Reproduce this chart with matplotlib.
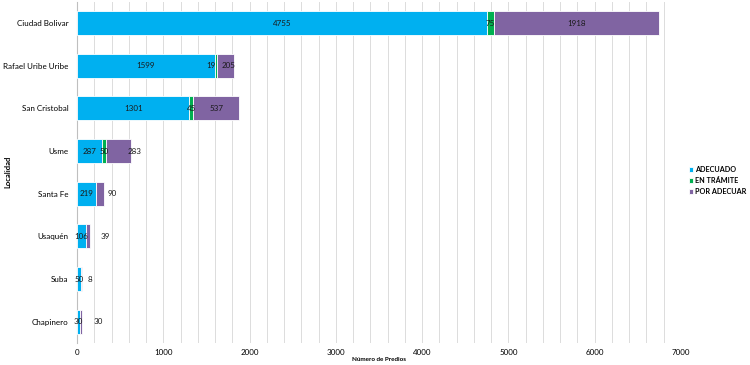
import matplotlib.pyplot as plt
import numpy as np

localidades = ["Ciudad Bolivar", "Rafael Uribe Uribe", "San Cristobal", "Usme",
               "Santa Fe", "Usaquén", "Suba", "Chapinero"]
adecuado = [4755, 1599, 1301, 287, 219, 106, 50, 30]
en_tramite = [75, 19, 45, 50, 0, 0, 0, 0]
por_adecuar = [1918, 205, 537, 283, 90, 39, 8, 30]
x_ticks = [0, 1000, 2000, 3000, 4000, 5000, 6000, 7000]

plt.rcParams["font.family"] = ["Lato", "DejaVu Sans"]

colors = ["#00B0F0", "#00B050", "#8064A2"]
series = [("ADECUADO", adecuado), ("EN TRÁMITE", en_tramite), ("POR ADECUAR", por_adecuar)]
# extra pixel shifts of the labels that sit off their segment centre
label_shift_px = {
    "EN TRÁMITE": [0, -5, 0, 0, 0, 0, 0, 0],
    "POR ADECUAR": [0, 3, 0, 16, 12, 17, 8, 17],
}

fig = plt.figure(figsize=(7.5, 3.65), dpi=100)
ax = fig.add_axes([0.1027, 0.0603, 0.8053, 0.9347])

y = np.arange(len(localidades))
left = np.zeros(len(localidades))
px_per_unit = 0.8053 * 750 / 7000
for (name, vals), color in zip(series, colors):
    vals = np.array(vals, dtype=float)
    ax.barh(y, vals, left=left, height=0.56, color=color, edgecolor="white",
            linewidth=0.6, label=name, zorder=3)
    shifts = label_shift_px.get(name, [0] * len(vals))
    for i, v in enumerate(vals):
        if v <= 0:
            continue
        xc = left[i] + v / 2 + shifts[i] / px_per_unit
        ax.text(xc, y[i], f"{int(v)}", ha="center", va="center", fontsize=5.8,
                color="#1a1a1a", zorder=4)
    left += vals

ax.set_xlim(0, 7000)
ax.set_ylim(len(localidades) - 0.5, -0.5)
ax.set_yticks(y)
ax.set_yticklabels(localidades, fontsize=5.8)
ax.set_xticks(x_ticks)
ax.set_xticklabels([str(t) for t in x_ticks], fontsize=5.8)
ax.set_xticks(np.arange(0, 7001, 200), minor=True)
ax.tick_params(axis="y", length=0, which="both", pad=6)
ax.tick_params(axis="x", length=0, which="both", pad=4)
ax.grid(True, axis="x", which="both", color="#dcdcdc", linewidth=0.7, zorder=0)
for s in ["top", "right", "bottom"]:
    ax.spines[s].set_visible(False)
ax.spines["left"].set_color("#bfbfbf")
ax.set_xlabel("Número de Predios", fontsize=4.5, fontweight="bold", labelpad=1)
fig.text(0.006, 0.53, "Localidad", rotation=90, fontsize=5.5, fontweight="bold",
         ha="left", va="center")

leg = fig.legend(loc="center left", bbox_to_anchor=(0.918, 0.505), frameon=False,
                 fontsize=5.2, handlelength=0.6, handleheight=0.6, handletextpad=0.3,
                 labelspacing=0.55, borderpad=0, borderaxespad=0)
for t in leg.get_texts():
    t.set_fontweight("bold")

fig.savefig("out.png", dpi=100)
